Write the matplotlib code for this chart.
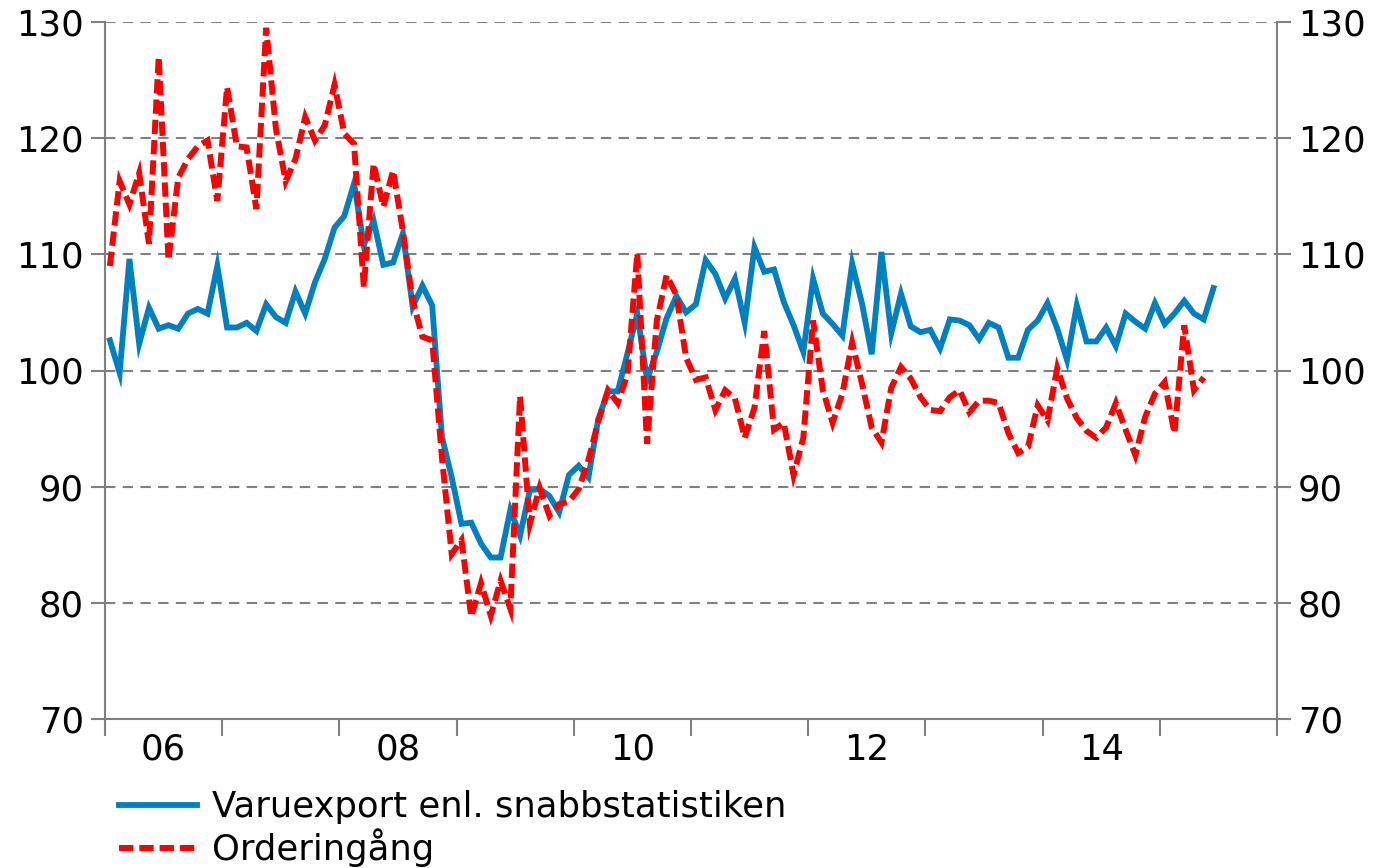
import numpy as np
import matplotlib
matplotlib.use("Agg")
import matplotlib.pyplot as plt

# Monthly index values, Jan 2006 onwards
varuexport = [
    102.6, 99.8, 109.6, 102.3, 105.4, 103.6, 103.9, 103.6, 104.9, 105.3, 104.9, 109.0,
    103.7, 103.7, 104.1, 103.4, 105.7, 104.6, 104.1, 106.8, 104.9, 107.6, 109.6, 112.3,
    113.3, 116.1, 110.8, 112.9, 109.1, 109.3, 111.8, 105.5, 107.3, 105.6, 94.3, 90.8,
    86.8, 86.9, 85.1, 83.9, 83.9, 88.0, 85.8, 89.7, 89.8, 89.2, 87.8, 91.0,
    91.8, 90.8, 95.8, 98.2, 98.2, 101.5, 104.9, 99.2, 101.6, 104.5, 106.4, 105.0,
    105.7, 109.5, 108.3, 106.2, 107.9, 104.1, 110.6, 108.5, 108.7, 105.9, 103.9, 101.6,
    107.9, 104.9, 104.0, 103.0, 109.2, 105.8, 101.4, 110.2, 103.2, 106.6, 103.8, 103.3,
    103.5, 101.9, 104.4, 104.3, 103.9, 102.7, 104.1, 103.7, 101.1, 101.1, 103.5, 104.3,
    105.8, 103.6, 100.9, 105.6, 102.5, 102.5, 103.7, 102.1, 104.9, 104.2, 103.6, 105.8,
    104.0, 104.9, 106.0, 104.9, 104.4, 107.1,
]
orderingang = [
    109.0, 116.3, 114.3, 117.0, 110.9, 127.0, 109.5, 116.6, 118.2, 119.3, 119.8, 114.6,
    124.4, 119.3, 119.2, 113.9, 129.5, 120.8, 116.3, 118.2, 121.8, 119.8, 121.1, 124.6,
    120.4, 119.5, 107.2, 117.8, 114.1, 117.2, 112.0, 106.0, 102.9, 102.6, 92.5, 84.2,
    85.4, 78.8, 81.7, 78.9, 81.9, 79.5, 97.8, 86.8, 89.9, 87.5, 88.5, 88.7,
    89.8, 92.3, 95.6, 98.3, 97.2, 99.7, 110.1, 93.7, 104.3, 108.2, 106.5, 101.1,
    99.2, 99.4, 96.6, 98.3, 97.6, 94.2, 96.8, 103.4, 94.9, 95.5, 91.0, 94.2,
    104.3, 98.3, 95.5, 98.0, 102.4, 98.9, 95.1, 93.8, 98.5, 100.3, 99.3, 97.7,
    96.6, 96.5, 97.7, 98.3, 96.4, 97.4, 97.4, 97.2, 94.6, 92.9, 93.4, 97.0,
    95.7, 100.2, 97.6, 95.9, 94.8, 94.2, 95.1, 97.2, 94.9, 92.7, 96.0, 98.0,
    99.0, 94.6, 103.9, 98.3, 99.4,
]
year_labels = ["06", "08", "10", "12", "14"]
labels = ["Varuexport enl. snabbstatistiken", "Orderingång"]

FS = 25.5
GREY = "#808080"

plt.rcParams["font.family"] = ["DejaVu Sans"]

fig = plt.figure(figsize=(13.76, 8.68), dpi=100)
ax = fig.add_axes([105 / 1376, 1 - 719 / 868, (1277 - 105) / 1376, (719 - 22) / 868])

# x in months since Jan 2006, points in mid-month
x_blue = np.arange(len(varuexport)) + 0.5
x_red = np.arange(len(orderingang)) + 0.5

l1, = ax.plot(x_blue, varuexport, color="#0080C0", lw=4.2, solid_joinstyle="miter", zorder=3)
l2, = ax.plot(x_red, orderingang, color="#FF0000", lw=4.3, dashes=(2.4, 1.0),
              dash_joinstyle="miter", dash_capstyle="butt", zorder=4)

ax.set_xlim(0, 120)
ax.set_ylim(70, 130)
ax.set_yticks(np.arange(70, 131, 10))
ax.set_xticks(np.arange(0, 121, 12))
ax.set_xticklabels([])
ax.set_xticks(np.arange(6, 120, 24), minor=True)
ax.set_xticklabels(year_labels, minor=True)

for v in range(80, 131, 10):
    ax.axhline(v, color=GREY, lw=1.5, dashes=(5, 3.5), zorder=1)

for s in ["left", "right", "bottom"]:
    ax.spines[s].set_color(GREY)
    ax.spines[s].set_linewidth(1.5)
ax.spines["top"].set_visible(False)

ax.tick_params(axis="y", which="major", direction="out", length=10, width=1.5,
               color=GREY, labelsize=FS, pad=5, left=True, right=True,
               labelleft=True, labelright=True)
ax.tick_params(axis="x", which="major", direction="out", length=12, width=1.5,
               color=GREY)
ax.tick_params(axis="x", which="minor", length=0, labelsize=FS, pad=10)

fig.legend([l1, l2], labels, loc="upper left", bbox_to_anchor=(119 / 1376, 1 - 790 / 868),
           frameon=False, fontsize=FS, handlelength=2.2, handletextpad=0.42,
           labelspacing=0.12, borderpad=0, borderaxespad=0)

fig.savefig("out.png", dpi=100)
